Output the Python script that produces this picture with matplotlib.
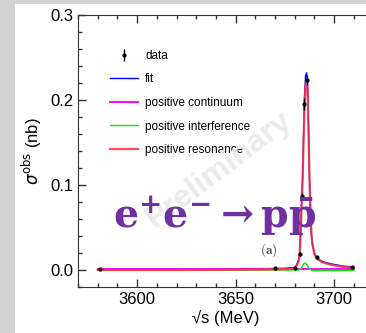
import matplotlib
matplotlib.use("Agg")
import matplotlib.pyplot as plt
from matplotlib.patches import Rectangle
from matplotlib.ticker import MultipleLocator

plt.rcParams['font.family'] = ['Liberation Sans', 'DejaVu Sans']
plt.rcParams['mathtext.fontset'] = 'dejavuserif'

# measured points
data_x = [3581.0, 3670.0, 3680.2, 3682.5, 3683.6, 3684.8, 3686.3, 3691.2, 3709.1]
data_y = [0.001, 0.002, 0.002, 0.019, 0.087, 0.195, 0.224, 0.015, 0.003]
data_err = [0.0005, 0.0005, 0.0007, 0.002, 0.004, 0.007, 0.006, 0.002, 0.001]

# curves
curve_x = [3580, 3600, 3620, 3640, 3660, 3670, 3675, 3678, 3680, 3681, 3682,
           3682.5, 3683, 3683.5, 3684, 3684.5, 3685, 3685.5, 3686, 3686.5,
           3687, 3687.5, 3688, 3688.5, 3689, 3690, 3691, 3692, 3694, 3697,
           3700, 3705, 3710]
fit_y = [0.001, 0.001, 0.001, 0.0012, 0.0015, 0.0018, 0.002, 0.0025, 0.003,
         0.006, 0.012, 0.019, 0.045, 0.080, 0.110, 0.160, 0.205, 0.228, 0.232,
         0.222, 0.170, 0.110, 0.070, 0.042, 0.030, 0.020, 0.015, 0.013, 0.010,
         0.008, 0.0065, 0.0045, 0.0035]
cont_y = [0.001, 0.001, 0.001, 0.001, 0.001, 0.001, 0.001, 0.001, 0.001,
          0.001, 0.001, 0.001, 0.001, 0.001, 0.001, 0.001, 0.001, 0.001, 0.001,
          0.001, 0.001, 0.001, 0.001, 0.001, 0.001, 0.001, 0.001, 0.001, 0.001,
          0.001, 0.001, 0.001, 0.001]
intf_y = [0.0, 0.0, 0.0, 0.0, 0.0, 0.0, 0.0, 0.0, 0.0, 0.0, 0.0,
          0.0005, 0.001, 0.003, 0.005, 0.007, 0.008, 0.008, 0.007, 0.005,
          0.003, 0.0015, 0.0005, 0.0, -0.0005, -0.0005, -0.0005, -0.0005,
          -0.0005, -0.0005, -0.0005, -0.0005, -0.0005]
reso_y = [0.0, 0.0, 0.0, 0.0002, 0.0005, 0.0008, 0.001, 0.0015, 0.002,
          0.005, 0.010, 0.017, 0.042, 0.075, 0.104, 0.151, 0.194, 0.217, 0.222,
          0.214, 0.165, 0.107, 0.068, 0.041, 0.030, 0.019, 0.014, 0.012, 0.009,
          0.007, 0.0055, 0.0035, 0.0025]

fig = plt.figure(figsize=(3.66, 3.33), dpi=100)
fig.patch.set_facecolor('#d3d3d3')
fig.patches.append(Rectangle((15 / 366, 0), 1, 1 - 4 / 333, transform=fig.transFigure,
                             facecolor='white', edgecolor='none', zorder=-10))

ax = fig.add_axes([78 / 366, 46 / 333, 295.5 / 366, 272 / 333])
ax.set_facecolor('none')

ax.plot(curve_x, fit_y, color='#0000ff', lw=1.0, label='fit', zorder=3)
ax.plot(curve_x, cont_y, color='#ff00ff', lw=1.4, label='positive continuum', zorder=3)
ax.plot(curve_x, intf_y, color='#00ee00', lw=1.0, label='positive interference', zorder=3)
ax.plot(curve_x, reso_y, color='#ff3040', lw=1.6, alpha=0.85, label='positive resonance', zorder=4)
ax.errorbar(data_x, data_y, yerr=data_err, fmt='o', ms=2, color='black',
            elinewidth=1.0, capsize=0, label='data', zorder=5)

handles, labels = ax.get_legend_handles_labels()
order = [4, 0, 1, 2, 3]
ax.legend([handles[i] for i in order], [labels[i] for i in order],
          loc='upper left', bbox_to_anchor=(0.108, 0.872), frameon=False,
          fontsize=8.5, labelspacing=0.98, handlelength=2.4, handletextpad=0.6,
          borderpad=0, borderaxespad=0)

ax.set_xlim(3570, 3720)
ax.set_ylim(-0.02, 0.3)
ax.xaxis.set_major_locator(MultipleLocator(50))
ax.xaxis.set_minor_locator(MultipleLocator(10))
ax.yaxis.set_major_locator(MultipleLocator(0.1))
ax.yaxis.set_minor_locator(MultipleLocator(0.02))
ax.yaxis.set_major_formatter(matplotlib.ticker.FormatStrFormatter('%.1f'))
ax.tick_params(which='both', direction='in', top=True, right=True, labelsize=12,
               color='#333333', width=1)
ax.tick_params(which='major', length=6)
ax.tick_params(which='minor', length=3)
for s in ax.spines.values():
    s.set_color('#333333')
ax.set_xlabel('√s (MeV)', fontsize=12, labelpad=2)
ax.set_ylabel(r'$\sigma^{\rm obs}$ (nb)', fontsize=12, labelpad=4,
              math_fontfamily='dejavusans')

fig.text(219 / 366, 1 - 170 / 333, 'Preliminary', rotation=37, fontsize=23,
         fontweight='bold', color='#ebebeb', ha='center', va='center', zorder=1)
fig.text(113 / 366, 1 - 228 / 333, r'$\mathbf{e^{+}e^{-}\rightarrow p\bar{p}}$',
         fontsize=28.5, color='#7030a0', ha='left', va='baseline', zorder=6)
fig.text(269 / 366, 1 - 250 / 333, r'$\mathbf{(a)}$', fontsize=9.5,
         math_fontfamily='cm', color='#444444', ha='center', va='center')

fig.savefig('out.png', dpi=100, facecolor=fig.get_facecolor())
